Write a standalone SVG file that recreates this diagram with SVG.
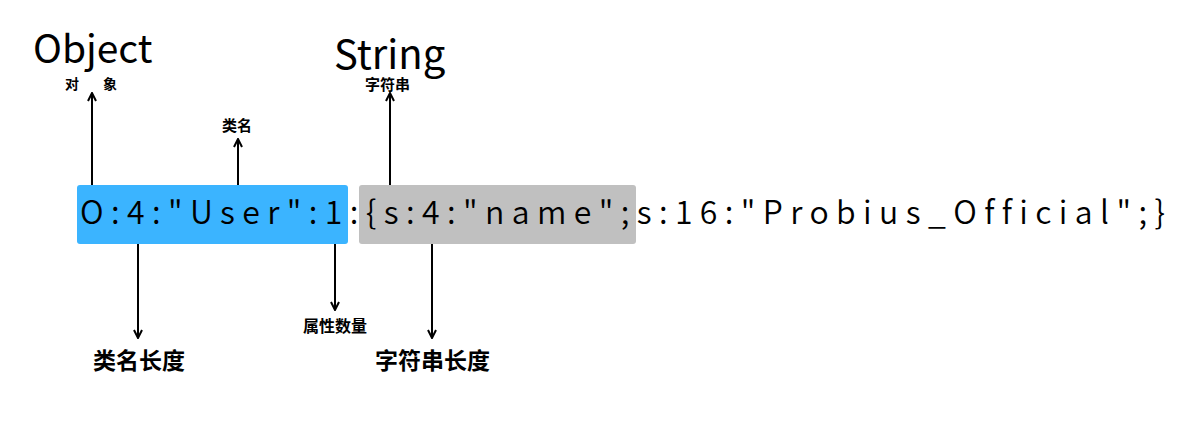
<svg xmlns="http://www.w3.org/2000/svg" width="1189" height="427" viewBox="0 0 1189 427">
<style>
.en{font-family:"Noto Sans CJK SC","Noto Sans",sans-serif;fill:#000;font-variant-ligatures:none}
.cn{font-family:"Noto Sans CJK SC","Noto Sans",sans-serif;font-weight:bold;fill:#000}
.ln{stroke:#000;stroke-width:2;fill:none}
</style>
<defs>
<marker id="ah" viewBox="0 0 10 10" refX="9" refY="5" markerWidth="10" markerHeight="10" markerUnits="userSpaceOnUse" orient="auto">
<path d="M1,1 L9,5 L1,9" fill="none" stroke="#000" stroke-width="2"/>
</marker>
</defs>
<rect width="1189" height="427" fill="#fff"/>
<g id="box-object">
<rect x="77" y="185" width="271" height="59" rx="3" fill="#3bb4ff"/>
</g>
<g id="box-string">
<rect x="359" y="185" width="277" height="59" rx="3" fill="#c0c0c0"/>
</g>
<g id="serialized">
<text class="en" x="80" y="224" font-size="32" font-weight="350" textLength="1085" lengthAdjust="spacing">O:4:"User":1:{s:4:"name";s:16:"Probius_Official";}</text>
</g>
<g id="connectors">
<line class="ln" x1="92" y1="185" x2="92" y2="93" marker-end="url(#ah)"/>
<line class="ln" x1="238" y1="185" x2="238" y2="139" marker-end="url(#ah)"/>
<line class="ln" x1="390" y1="185" x2="390" y2="93" marker-end="url(#ah)"/>
<line class="ln" x1="138" y1="244" x2="138" y2="338" marker-end="url(#ah)"/>
<line class="ln" x1="335" y1="244" x2="335" y2="310" marker-end="url(#ah)"/>
<line class="ln" x1="432" y1="244" x2="432" y2="338" marker-end="url(#ah)"/>
</g>
<g id="label-object">
<text class="en" x="33" y="63" font-size="39">Object</text>
<text class="cn" x="65" y="89" font-size="14" letter-spacing="5">对　象</text>
</g>
<g id="label-classname">
<text class="cn" x="222" y="131" font-size="15">类名</text>
</g>
<g id="label-string">
<text class="en" x="334" y="69" font-size="40">String</text>
<text class="cn" x="365" y="90" font-size="15">字符串</text>
</g>
<g id="label-classlen">
<text class="cn" x="93" y="369" font-size="23">类名长度</text>
</g>
<g id="label-propcount">
<text class="cn" x="303" y="332" font-size="16">属性数量</text>
</g>
<g id="label-strlen">
<text class="cn" x="375" y="369" font-size="23">字符串长度</text>
</g>
</svg>
